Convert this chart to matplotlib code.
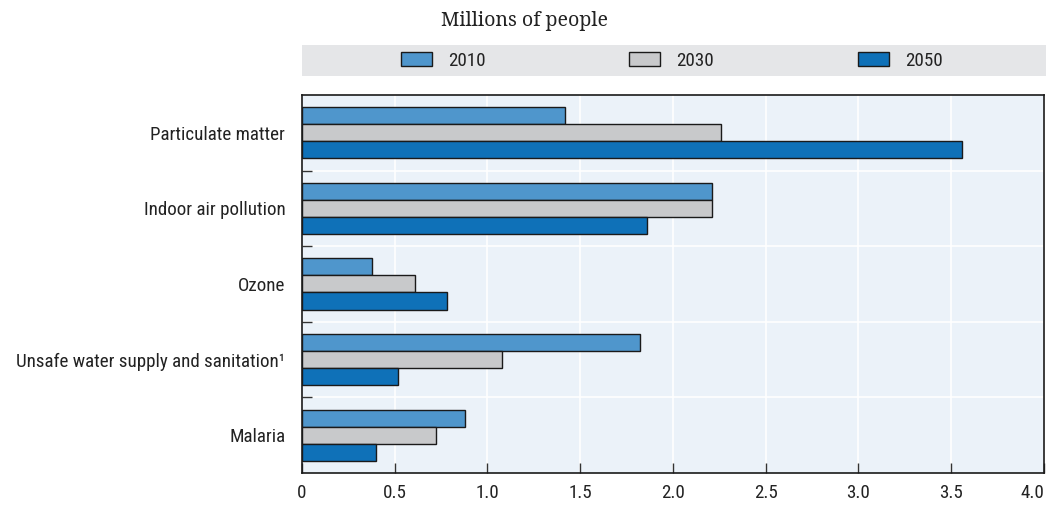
import matplotlib
matplotlib.use("Agg")
import matplotlib.pyplot as plt
from matplotlib.patches import Rectangle
import numpy as np

# Data (millions of people)
categories = ["Particulate matter", "Indoor air pollution", "Ozone",
              "Unsafe water supply and sanitation\u00b9", "Malaria"]
years = ["2010", "2030", "2050"]
vals_2010 = [1.42, 2.21, 0.38, 1.82, 0.88]
vals_2030 = [2.26, 2.21, 0.61, 1.08, 0.72]
vals_2050 = [3.56, 1.86, 0.78, 0.52, 0.40]
xticks = [0, 0.5, 1.0, 1.5, 2.0, 2.5, 3.0, 3.5, 4.0]
xlabels = ["0", "0.5", "1.0", "1.5", "2.0", "2.5", "3.0", "3.5", "4.0"]

colors = ["#4f96cc", "#c8c9cb", "#0f71b8"]
narrow = ["Roboto Condensed", "DejaVu Sans"]
fs = 13.7

fig = plt.figure(figsize=(10.46, 5.05), dpi=100)
ax = fig.add_axes([0.2887, 0.0634, 0.7093, 0.7485])
ax.set_facecolor("#ebf2f9")

y = np.arange(len(categories))
h = 0.225
for i, (vals, c, lab) in enumerate(zip([vals_2010, vals_2030, vals_2050], colors, years)):
    ax.barh(y + (i - 1) * h, vals, height=h, color=c, edgecolor="#1a1a1a",
            linewidth=1.0, label=lab, zorder=3)

ax.set_xlim(0, 4.0)
ax.set_ylim(len(categories) - 0.5, -0.5)
ax.set_xticks(xticks)
ax.set_xticklabels(xlabels, family=narrow, fontsize=fs, color="#222222")
ax.get_xticklabels()[-1].set_ha("right")
ax.set_yticks(y)
ax.set_yticklabels(categories, family=narrow, fontsize=fs, color="#222222")
ax.set_yticks(y[:-1] + 0.5, minor=True)

ax.tick_params(axis="y", which="major", length=0, pad=12)
ax.tick_params(axis="y", which="minor", length=7, direction="in", width=1, color="#333333")
ax.tick_params(axis="x", length=7, direction="in", width=1, color="#333333", pad=8)

ax.grid(axis="x", which="major", color="white", linewidth=1.2, zorder=0)
ax.grid(axis="y", which="minor", color="white", linewidth=1.2, zorder=0)
ax.set_axisbelow(True)
for s in ax.spines.values():
    s.set_color("#1a1a1a")
    s.set_linewidth(1.2)

# legend band
fig.patches.append(Rectangle((0.2887, 0.8495), 0.7113, 0.0614, transform=fig.transFigure,
                             facecolor="#e5e6e8", edgecolor="none", zorder=0))
leg = fig.legend(loc="center left", bbox_to_anchor=(0.3831, 0.880), ncol=3, frameon=False,
                 borderpad=0, borderaxespad=0,
                 handlelength=1.63, handleheight=0.82, columnspacing=7.57, handletextpad=0.84,
                 prop={"family": narrow, "size": fs})
for t in leg.get_texts():
    t.set_color("#222222")

fig.text(0.4213, 0.9485, "Millions of people", family=["Noto Serif", "DejaVu Serif"], fontsize=14,
         ha="left", va="baseline", color="#222222")

fig.savefig("out.png", dpi=100)
